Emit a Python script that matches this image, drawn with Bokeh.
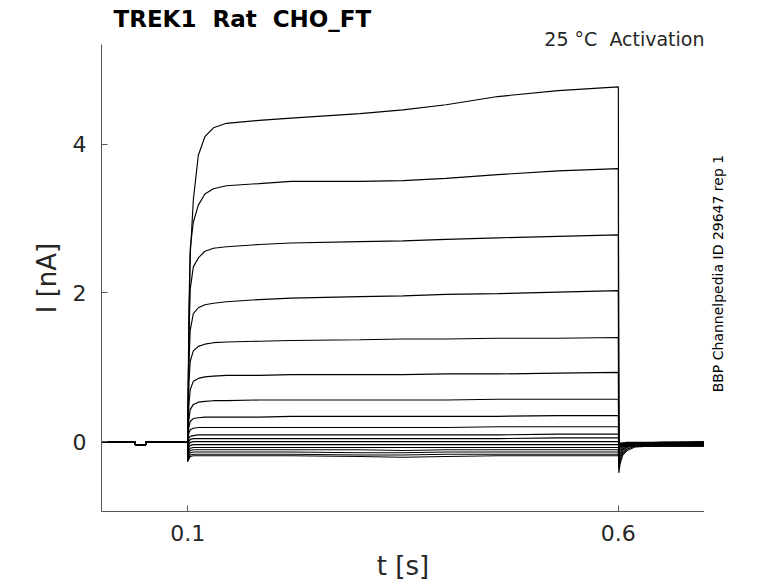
from bokeh.plotting import figure
from bokeh.layouts import row
from bokeh.models import ColumnDataSource, FixedTicker, Range1d, Title, Label
from bokeh.embed import file_html
from bokeh.resources import INLINE
import math

# ---------------- data ----------------
title_text = "TREK1\u00a0 Rat\u00a0 CHO_FT"
condition_text = "25 °C\u00a0 Activation"
side_text = "BBP Channelpedia ID 29647 rep 1"

x_ticks = [0.1, 0.6]
y_ticks = [0, 2, 4]

# holding segment (before the step), shared by all sweeps
hold_t = [0.0, 0.0388, 0.0390, 0.0513, 0.0515, 0.1]
hold_i = [0.0, 0.0, -0.04, -0.04, 0.0, 0.0]

# step segment sample times [s]
step_t = [0.1, 0.1015, 0.103, 0.1066, 0.1124, 0.12, 0.13, 0.145,
          0.183, 0.22, 0.3, 0.35, 0.4, 0.46, 0.53, 0.6]

# step currents [nA], one list per sweep
sweep_01 = [0, 1.50, 2.50, 3.25, 3.85, 4.10, 4.22, 4.28, 4.32, 4.35, 4.41, 4.46, 4.53, 4.64, 4.72, 4.77]
sweep_02 = [0, 1.80, 2.60, 2.95, 3.18, 3.33, 3.40, 3.44, 3.47, 3.50, 3.50, 3.51, 3.54, 3.59, 3.64, 3.67]
sweep_03 = [0, 1.40, 2.05, 2.35, 2.47, 2.56, 2.60, 2.62, 2.65, 2.67, 2.69, 2.70, 2.72, 2.74, 2.76, 2.78]
sweep_04 = [0, 1.05, 1.50, 1.72, 1.80, 1.84, 1.86, 1.88, 1.91, 1.93, 1.95, 1.96, 1.98, 1.99, 2.01, 2.03]
sweep_05 = [0, 0.80, 1.08, 1.22, 1.28, 1.31, 1.33, 1.34, 1.35, 1.36, 1.37, 1.38, 1.38, 1.39, 1.39, 1.40]
sweep_06 = [0, 0.50, 0.70, 0.81, 0.85, 0.87, 0.88, 0.89, 0.89, 0.90, 0.90, 0.90, 0.91, 0.91, 0.92, 0.93]
sweep_07 = [0, 0.30, 0.43, 0.50, 0.53, 0.54, 0.55, 0.55, 0.56, 0.56, 0.56, 0.56, 0.56, 0.57, 0.57, 0.57]
sweep_08 = [0, 0.20, 0.27, 0.31, 0.32, 0.33, 0.33, 0.33, 0.33, 0.34, 0.34, 0.34, 0.34, 0.34, 0.35, 0.35]
sweep_09 = [0, 0.12, 0.16, 0.18, 0.19, 0.19, 0.19, 0.19, 0.19, 0.19, 0.19, 0.19, 0.19, 0.20, 0.20, 0.20]
sweep_10 = [-0.05, 0.05, 0.07, 0.08, 0.09, 0.09, 0.09, 0.09, 0.09, 0.09, 0.09, 0.09, 0.09, 0.09, 0.10, 0.10]
sweep_11 = [-0.10, 0.00, 0.03, 0.04, 0.04, 0.04, 0.04, 0.04, 0.04, 0.04, 0.04, 0.04, 0.04, 0.04, 0.05, 0.05]
sweep_12 = [-0.15, -0.04, -0.01, 0.00, 0.00, 0.00, 0.00, 0.00, 0.00, 0.00, 0.00, 0.00, 0.00, 0.00, 0.00, 0.00]
sweep_13 = [-0.20, -0.08, -0.05, -0.04, -0.04, -0.04, -0.04, -0.04, -0.04, -0.04, -0.04, -0.04, -0.04, -0.04, -0.04, -0.04]
sweep_14 = [-0.22, -0.12, -0.09, -0.08, -0.08, -0.08, -0.08, -0.08, -0.08, -0.08, -0.08, -0.08, -0.08, -0.08, -0.08, -0.08]
sweep_15 = [-0.24, -0.15, -0.12, -0.11, -0.11, -0.11, -0.11, -0.11, -0.11, -0.11, -0.11, -0.12, -0.11, -0.11, -0.11, -0.11]
sweep_16 = [-0.25, -0.18, -0.15, -0.14, -0.14, -0.14, -0.14, -0.14, -0.14, -0.14, -0.15, -0.15, -0.14, -0.14, -0.14, -0.14]
sweep_17 = [-0.26, -0.21, -0.18, -0.17, -0.17, -0.17, -0.17, -0.17, -0.17, -0.17, -0.18, -0.18, -0.17, -0.17, -0.17, -0.17]
sweep_18 = [-0.27, -0.23, -0.20, -0.19, -0.19, -0.19, -0.19, -0.19, -0.19, -0.19, -0.20, -0.21, -0.20, -0.19, -0.19, -0.19]

# tail segment (after the step) sample times [s]
tail_t = [0.6005, 0.602, 0.605, 0.61, 0.62, 0.65, 0.7]
tail_01 = [-0.42, -0.30, -0.18, -0.12, -0.07, -0.05, -0.04]
tail_02 = [-0.36, -0.25, -0.15, -0.10, -0.06, -0.05, -0.04]
tail_03 = [-0.30, -0.20, -0.12, -0.08, -0.05, -0.04, -0.04]
tail_04 = [-0.24, -0.16, -0.10, -0.07, -0.05, -0.04, -0.03]
tail_05 = [-0.18, -0.12, -0.08, -0.06, -0.04, -0.03, -0.03]
tail_06 = [-0.14, -0.09, -0.06, -0.05, -0.04, -0.03, -0.03]
tail_07 = [-0.10, -0.07, -0.05, -0.04, -0.03, -0.03, -0.02]
tail_08 = [-0.08, -0.05, -0.04, -0.03, -0.03, -0.02, -0.02]
tail_09 = [-0.06, -0.05, -0.04, -0.03, -0.02, -0.02, -0.02]
tail_10 = [-0.05, -0.04, -0.03, -0.02, -0.02, -0.01, -0.01]
tail_11 = [-0.04, -0.03, -0.03, -0.02, -0.02, -0.02, -0.01]
tail_12 = [-0.03, -0.03, -0.02, -0.02, -0.02, -0.01, -0.01]
tail_13 = [-0.02, -0.02, -0.02, -0.01, -0.01, -0.01, 0.00]
tail_14 = [-0.03, -0.03, -0.03, -0.03, -0.03, -0.03, -0.03]
tail_15 = [-0.04, -0.04, -0.04, -0.04, -0.04, -0.04, -0.04]
tail_16 = [-0.05, -0.05, -0.05, -0.05, -0.05, -0.05, -0.05]
tail_17 = [-0.06, -0.06, -0.06, -0.06, -0.06, -0.06, -0.06]
tail_18 = [-0.07, -0.07, -0.06, -0.06, -0.06, -0.06, -0.06]

sweeps = [sweep_01, sweep_02, sweep_03, sweep_04, sweep_05, sweep_06,
          sweep_07, sweep_08, sweep_09, sweep_10, sweep_11, sweep_12,
          sweep_13, sweep_14, sweep_15, sweep_16, sweep_17, sweep_18]
tails = [tail_01, tail_02, tail_03, tail_04, tail_05, tail_06,
         tail_07, tail_08, tail_09, tail_10, tail_11, tail_12,
         tail_13, tail_14, tail_15, tail_16, tail_17, tail_18]

# ---------------- figure ----------------
FONT = "DejaVu Sans"
TXT = "#262626"
AX = "#555555"

MAIN_W, SIDE_W, H = 704, 74, 583

p = figure(width=MAIN_W, height=H,
           x_range=Range1d(0.0, 0.7), y_range=Range1d(-0.94, 5.34),
           output_backend="svg", toolbar_location=None,
           min_border_left=101, min_border_right=0,
           min_border_top=44, min_border_bottom=71)

p.title.text = title_text
p.title.text_font = FONT
p.title.text_font_size = "23px"
p.title.text_font_style = "bold"
p.title.text_color = "black"
p.title.align = "left"
p.title.offset = 12
p.title.standoff = -2

cond = Title(text=condition_text, align="right", text_font=FONT,
             text_font_size="19px", text_font_style="normal",
             text_color=TXT, standoff=-10)
p.add_layout(cond, "above")

p.grid.visible = False
p.outline_line_color = None
p.background_fill_color = "white"
p.border_fill_color = "white"

xs = [hold_t + step_t + tail_t for _ in sweeps]
ys = [hold_i + s + t for s, t in zip(sweeps, tails)]
src = ColumnDataSource(dict(xs=xs, ys=ys))
p.multi_line("xs", "ys", source=src, line_color="black", line_width=1.15)

for ax in (p.xaxis[0], p.yaxis[0]):
    ax.axis_line_color = AX
    ax.axis_line_width = 1
    ax.major_tick_line_color = AX
    ax.major_tick_in = 6
    ax.major_tick_out = 0
    ax.minor_tick_line_color = None
    ax.major_label_text_font = FONT
    ax.major_label_text_font_size = "22px"
    ax.major_label_text_color = TXT
    ax.axis_label_text_font = FONT
    ax.axis_label_text_font_size = "26px"
    ax.axis_label_text_font_style = "normal"
    ax.axis_label_text_color = TXT

p.xaxis.ticker = FixedTicker(ticks=x_ticks)
p.yaxis.ticker = FixedTicker(ticks=y_ticks)
p.xaxis.axis_label = "t [s]"
p.yaxis.axis_label = "I [nA]"
p.xaxis.major_label_standoff = 13
p.xaxis.axis_label_standoff = 7
p.yaxis.major_label_standoff = 15
p.yaxis.axis_label_standoff = 8

# narrow companion panel on the right that carries the vertical note
side = figure(width=SIDE_W, height=H, x_range=Range1d(0, SIDE_W), y_range=Range1d(0, H),
              x_axis_type=None, y_axis_type=None,
              output_backend="svg", toolbar_location=None,
              min_border_left=0, min_border_right=0, min_border_top=0, min_border_bottom=0)
side.outline_line_color = None
side.grid.visible = False
side.background_fill_color = "white"
side.border_fill_color = "white"
side.add_layout(Label(x=13.5, y=H - 286, text=side_text, text_font=FONT,
                      text_font_size="14px", text_color="black", angle=math.pi / 2,
                      text_align="center", text_baseline="middle"))

layout = row(p, side)
open("out.html", "w").write(file_html(layout, INLINE))
